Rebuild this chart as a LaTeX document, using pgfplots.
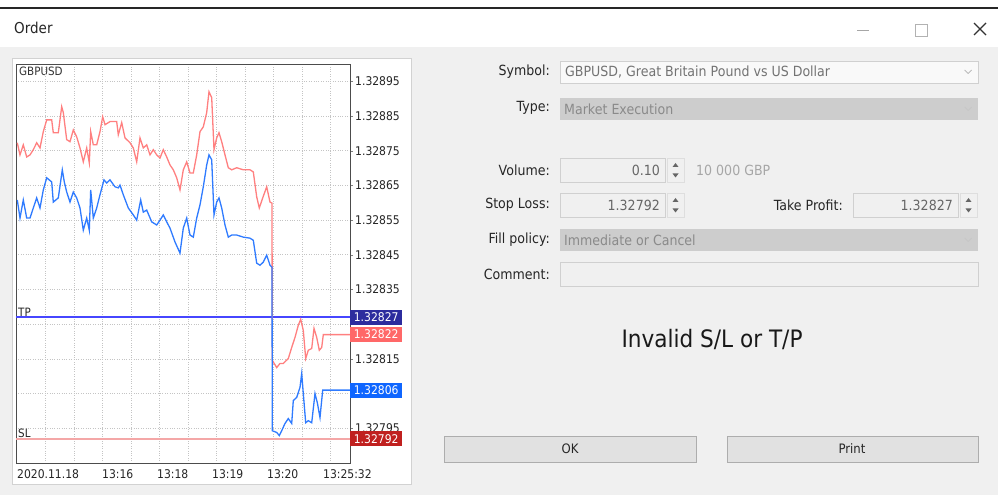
\documentclass[border=0pt]{standalone}
\usepackage{fontspec}
\setmainfont{DejaVu Sans}[FakeStretch=0.9]
\usepackage{pgfplots}
\pgfplotsset{compat=1.18}
\definecolor{dlgbg}{HTML}{F0F0F0}
\definecolor{panelb}{HTML}{D2D2D2}
\definecolor{gridc}{HTML}{C4C4C4}
\definecolor{askc}{HTML}{FF8080}
\definecolor{bidc}{HTML}{2F7BFF}
\definecolor{tpc}{RGB}{70,70,255}
\definecolor{slc}{HTML}{F4A7A7}
\definecolor{tpbox}{HTML}{2C2C9E}
\definecolor{askbox}{HTML}{FF6868}
\definecolor{bidbox}{HTML}{0F66FF}
\definecolor{slbox}{HTML}{C0201F}
\definecolor{boxb}{HTML}{D0D0D0}
\definecolor{disbox}{HTML}{CDCDCD}
\definecolor{gtext}{HTML}{8A8A8A}
\definecolor{btnf}{HTML}{E1E1E1}
\definecolor{btnb}{HTML}{ADADAD}
\begin{document}
\begin{tikzpicture}
\useasboundingbox (0,0) rectangle (998pt,495pt);
\fill[white] (0,0) rectangle (998pt,495pt);
\begin{scope}[shift={(0pt,495pt)},x=1pt,y=-1pt]
  % title bar
  \draw[black!85, line width=1.5pt] (0,8) -- (998,8);
  \fill[dlgbg] (0,47) rectangle (998,495);
  \node[anchor=west, inner sep=0pt, font=\fontsize{15}{16}\selectfont, text=black!85] at (14,28) {Order};
  \draw[gray!70, line width=0.8pt] (857,30.5) -- (869,30.5);
  \draw[gray!60, line width=0.8pt] (915,24) rectangle (927,36);
  \draw[black!80, line width=1.1pt] (974,23) -- (986,35) (986,23) -- (974,35);
  % chart panel
  \fill[white] (12,58) rectangle (411,484);
  \draw[panelb, line width=0.8pt] (12,58) rectangle (411,484);
  % form
  \tikzset{lbl/.style={anchor=east, inner sep=0pt, font=\fontsize{14}{15}\selectfont, text=black!85},
           val/.style={inner sep=0pt, font=\fontsize{14}{15}\selectfont, text=gtext}}
  \node[lbl] at (550,72) {Symbol:};
  \draw[fill=white!60!dlgbg, draw=boxb] (560,61) rectangle (978,83);
  \node[val, anchor=west, text=black!55] at (565,72) {GBPUSD, Great Britain Pound vs US Dollar};
  \draw[gray!60, line width=0.7pt] (964.5,70) -- (968,73.5) -- (971.5,70);
  \node[lbl] at (550,108) {Type:};
  \fill[disbox] (560,98) rectangle (978,120);
  \node[val, anchor=west] at (564,109) {Market Execution};
  \draw[gray!45, line width=0.7pt] (964.5,107) -- (968,110.5) -- (971.5,107);
  % volume
  \node[lbl] at (550,170) {Volume:};
  \draw[fill=dlgbg, draw=boxb] (560,158) rectangle (665,182);
  \node[val, anchor=east, text=black!60] at (660,170) {0.10};
  \draw[fill=dlgbg, draw=boxb!70] (667,158) rectangle (684,182);
  \fill[black!60] (672.5,167) -- (678.5,167) -- (675.5,163) -- cycle;
  \fill[black!60] (672.5,173.5) -- (678.5,173.5) -- (675.5,177.5) -- cycle;
  \node[val, anchor=west, text=black!35] at (696,170) {10 000 GBP};
  % stop loss
  \node[lbl] at (550,205) {Stop Loss:};
  \draw[fill=dlgbg, draw=boxb] (560,193) rectangle (665,217);
  \node[val, anchor=east, text=black!60] at (660,205) {1.32792};
  \draw[fill=dlgbg, draw=boxb!70] (667,193) rectangle (684,217);
  \fill[black!60] (672.5,202) -- (678.5,202) -- (675.5,198) -- cycle;
  \fill[black!60] (672.5,208.5) -- (678.5,208.5) -- (675.5,212.5) -- cycle;
  % take profit
  \node[lbl] at (843,205) {Take Profit:};
  \draw[fill=dlgbg, draw=boxb] (853,193) rectangle (958,217);
  \node[val, anchor=east, text=black!60] at (953,205) {1.32827};
  \draw[fill=dlgbg, draw=boxb!70] (960,193) rectangle (977,217);
  \fill[black!60] (965.5,202) -- (971.5,202) -- (968.5,198) -- cycle;
  \fill[black!60] (965.5,208.5) -- (971.5,208.5) -- (968.5,212.5) -- cycle;
  % fill policy
  \node[lbl] at (550,240) {Fill policy:};
  \fill[disbox] (560,229) rectangle (978,251);
  \node[val, anchor=west] at (564,240) {Immediate or Cancel};
  \draw[gray!45, line width=0.7pt] (964.5,238) -- (968,241.5) -- (971.5,238);
  % comment
  \node[lbl] at (550,274) {Comment:};
  \draw[fill=dlgbg, draw=boxb] (560,262) rectangle (978,286);
  % message
  \node[inner sep=0pt, font=\fontsize{24}{26}\selectfont, text=black!90] at (712,339) {Invalid S/L or T/P};
  % buttons
  \draw[fill=btnf, draw=btnb] (444,436) rectangle (696,462);
  \node[inner sep=0pt, font=\fontsize{13}{14}\selectfont, text=black!85] at (570,449) {OK};
  \draw[fill=btnf, draw=btnb] (727,436) rectangle (978,462);
  \node[inner sep=0pt, font=\fontsize{13}{14}\selectfont, text=black!85] at (852,449) {Print};
  % chart symbol
  \node[anchor=north west, inner sep=0pt, font=\fontsize{11.5}{12}\selectfont, text=black!80] at (19,67) {GBPUSD};
\end{scope}
\begin{axis}[
  at={(16pt,32pt)}, anchor=south west,
  scale only axis, width=334pt, height=399pt,
  xmin=16, xmax=350, ymin=785, ymax=900,
  axis line style={draw=black!70, line width=0.9pt},
  tick align=outside, major tick length=3pt,
  ytick pos=right, yticklabel pos=right,
  ytick={795,805,815,825,835,845,855,865,875,885,895},
  yticklabels={1.32795,,1.32815,,1.32835,1.32845,1.32855,1.32865,1.32875,1.32885,1.32895},
  yticklabel style={anchor=west, inner sep=0pt, xshift=2pt, font=\fontsize{12}{13}\selectfont, text=black!85},
  ymajorgrids, major grid style={gridc, dotted, line width=0.8pt},
  xtick pos=left,
  xtick={17,102,157,212,267,323},
  xticklabels={2020.11.18,13:16,13:18,13:19,13:20,13:25:32},
  xticklabel style={anchor=north west, inner sep=0pt, yshift=-3pt, font=\fontsize{12}{13}\selectfont, text=black!85},
  xtick style={draw=none},
  minor xtick={45.7,74.2,102.7,131.2,159.7,188.2,216.7,245.2,273.7,302.2,330.7},
  xminorgrids, minor grid style={gridc, dotted, line width=0.8pt},
  clip mode=individual,
]
% prices in units of 0.00001 above 1.32000
\addplot[color=slc, line width=2pt] coordinates {(16,792) (350,792)};
\addplot[draw=tpc, line width=1.6pt] coordinates {(16,827) (350,827)};
\addplot[color=askc, line width=1.3pt] coordinates {
(17.3,877.3) (20,873.8) (23.3,876.7) (26.7,873.2) (30,873.8) (33.3,875.3) (36.7,877.3) (40,875.8) (43.3,880.5) (46.7,883.9) (51.7,883.9) (53.3,880.2) (58.3,880.2) (61.7,887.7) (63.3,886.0) (66.7,878.2) (70,877.6) (73.3,881.0) (76.7,879.0) (80,875.8) (83.3,871.8) (86.7,875.8) (89.3,871.5) (90.7,880.5) (93.3,876.7) (96.7,876.7) (100,880.5) (102.7,884.8) (105,882.5) (110,883.4) (116.7,883.4) (118.3,879.6) (121.7,883.1) (125,878.7) (130,877.3) (133.3,875.8) (136.7,871.8) (140,878.7) (143.3,875.8) (146.7,876.7) (150,873.8) (153.3,875.3) (156.7,873.8) (160,872.9) (163.3,875.3) (166.7,873.2) (170,870.9) (173.3,869.5) (176.7,867.2) (180,863.7) (183.3,869.5) (186.7,871.8) (190,868.6) (193.3,868.6) (196.7,873.8) (200,880.5) (203.3,881.9) (206.7,886.0) (209,892.0) (211.7,890.3) (214,875.3) (216.7,878.7) (219,880.2) (221.7,877.6) (225,873.8) (228.3,870.1) (231.7,869.5) (236.7,870.1) (243.3,869.5) (250,869.5) (253.3,868.9) (256.7,861.7) (259.3,858.5) (262.7,861.4) (266.7,864.6) (270,860.2) (272,859.9) (272.3,814.6) (276.7,812.5) (280,813.7) (283.3,813.7) (288.3,815.1) (291.7,818.3) (295,821.2) (298.3,824.7) (300.7,826.4) (303.3,823.2) (305.7,815.1) (308.3,817.5) (311.7,818.0) (314,823.8) (316.7,821.2) (319.3,817.5) (321.7,818.3) (323.3,822.0) (350,822.0)};
\addplot[color=bidc, line width=1.3pt] coordinates {
(17.3,860.8) (20,855.6) (23.3,860.8) (26.7,855.6) (30,855.6) (33.3,858.5) (36.7,861.4) (40,858.5) (43.3,863.7) (46.7,867.2) (51.7,866.0) (53.3,860.2) (58.3,861.4) (62.3,869.5) (64.3,866.0) (66.7,863.1) (70,860.2) (73.3,863.1) (76.7,861.4) (80,858.5) (83.3,852.1) (86.7,855.6) (89.3,852.1) (90.7,863.7) (93.3,855.6) (96.7,858.5) (100,862.3) (104,866.6) (106.7,865.7) (110,866.6) (115,864.6) (118.3,864.3) (120,865.1) (123.3,862.3) (128.3,858.5) (133.3,856.5) (136.7,855.0) (140.7,860.8) (143.3,857.3) (146.7,857.9) (151.7,854.5) (156.7,853.6) (160,855.0) (163.3,856.5) (166.7,854.5) (170,852.7) (175,848.7) (180,845.5) (183.3,852.7) (186.7,855.6) (190,850.7) (193.3,850.1) (196.7,855.6) (200,859.4) (203.3,864.6) (206.7,870.9) (209,873.8) (211.7,872.4) (214,856.5) (216.7,860.2) (219,861.4) (221.7,858.5) (225,853.6) (228.3,850.1) (231.7,850.7) (236.7,850.7) (243.3,850.1) (250,849.8) (253.3,849.2) (256.7,842.6) (260,842.0) (263.3,842.9) (266.7,844.9) (270,842.0) (272,841.4) (272.3,794.3) (276.7,793.8) (279.3,792.9) (281.7,794.3) (285,796.4) (288.3,797.8) (291.7,796.4) (293.3,803.0) (296.7,803.9) (300,806.8) (301.7,810.8) (303.3,805.0) (305.7,796.6) (308.3,797.2) (311.7,796.6) (315,805.0) (317.3,802.4) (320,798.1) (322.7,806.0) (350,806.0)};
\node[anchor=south west, inner sep=1pt, font=\fontsize{11.5}{12}\selectfont, text=black!85] at (axis cs:17,827) {TP};
\node[anchor=south west, inner sep=1pt, font=\fontsize{11.5}{12}\selectfont, text=black!85] at (axis cs:17,792) {SL};
\coordinate (bTP) at (axis cs:350,827);
\coordinate (bAsk) at (axis cs:350,822);
\coordinate (bBid) at (axis cs:350,806);
\coordinate (bSL) at (axis cs:350,792);
\end{axis}
\tikzset{pbox/.style={anchor=west, minimum width=52pt, minimum height=15pt, inner sep=0pt, text=white, font=\fontsize{12}{13}\selectfont}}
\node[pbox, fill=tpbox] at (bTP) {1.32827};
\node[pbox, fill=askbox] at (bAsk) {1.32822};
\node[pbox, fill=bidbox] at (bBid) {1.32806};
\node[pbox, fill=slbox] at (bSL) {1.32792};
\end{tikzpicture}
\end{document}
